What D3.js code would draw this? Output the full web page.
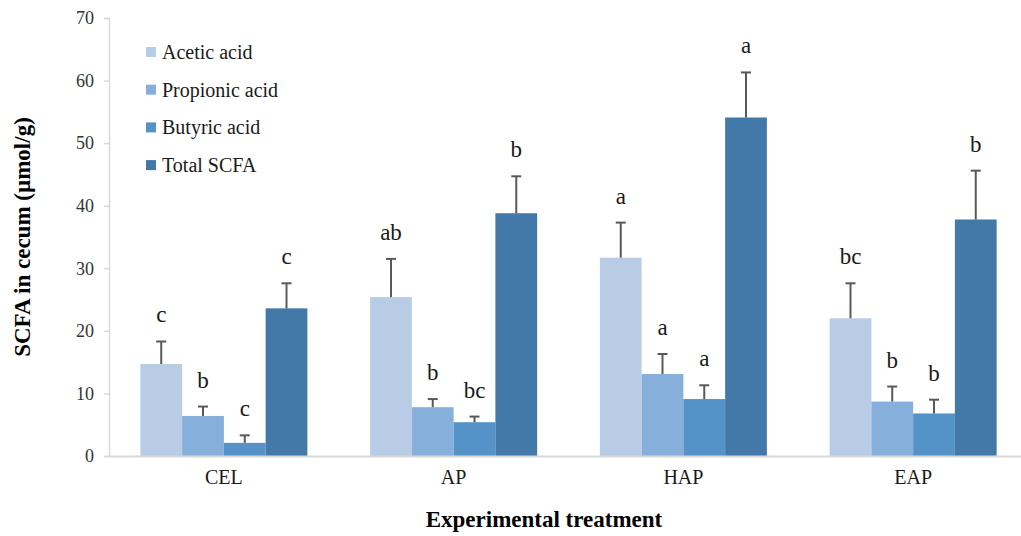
<!DOCTYPE html>
<html>
<head>
<meta charset="utf-8">
<script src="https://d3js.org/d3.v7.min.js"></script>
<style>
  body { margin: 0; background: #fff; }
  svg { display: block; font-family: "Liberation Serif", "Times New Roman", serif; }
</style>
</head>
<body>
<svg id="chart" width="1021" height="536"></svg>
<script>
// treatments and series
const treatments = ["CEL", "AP", "HAP", "EAP"];
const seriesNames = ["Acetic acid", "Propionic acid", "Butyric acid", "Total SCFA"];
const colors = ["#b8cce6", "#86afdc", "#5592c8", "#4379a9"];

// means per series, in treatment order
const acetic    = [14.7, 25.4, 31.7, 22.0];
const propionic = [6.4, 7.8, 13.1, 8.7];
const butyric   = [2.1, 5.4, 9.1, 6.8];
const total     = [23.6, 38.8, 54.1, 37.8];

// standard deviations (upper error bars)
const aceticSd    = [3.6, 6.1, 5.6, 5.6];
const propionicSd = [1.5, 1.3, 3.2, 2.4];
const butyricSd   = [1.2, 0.9, 2.2, 2.2];
const totalSd     = [4.0, 5.9, 7.2, 7.8];

// significance letters
const aceticLet    = ["c", "ab", "a", "bc"];
const propionicLet = ["b", "b", "a", "b"];
const butyricLet   = ["c", "bc", "a", "b"];
const totalLet     = ["c", "b", "a", "b"];

const yTicks = [0, 10, 20, 30, 40, 50, 60, 70];

const means = [acetic, propionic, butyric, total];
const sds = [aceticSd, propionicSd, butyricSd, totalSd];
const lets = [aceticLet, propionicLet, butyricLet, totalLet];

const rows = [];
treatments.forEach((t, i) => {
  seriesNames.forEach((s, j) => {
    rows.push({ t, s, j, v: means[j][i], sd: sds[j][i], lab: lets[j][i] });
  });
});

const pLeft = 109, pRight = 1028, pTop = 18, pBottom = 456;
const svg = d3.select("#chart");

const x = d3.scaleBand().domain(treatments).range([pLeft, pRight])
  .paddingInner(0.273).paddingOuter(0.1365);
const xs = d3.scaleBand().domain(seriesNames).range([0, x.bandwidth()]);
const y = d3.scaleLinear().domain([0, 70]).range([pBottom, pTop]);

// y axis
const yAxis = svg.append("g")
  .attr("transform", `translate(${pLeft},0)`)
  .call(d3.axisLeft(y).tickValues(yTicks).tickSize(5).tickPadding(10));
yAxis.selectAll("line").attr("stroke", "#d9d9d9").attr("stroke-width", 1.5);
yAxis.select(".domain").attr("stroke", "#d9d9d9").attr("stroke-width", 1.5);
yAxis.selectAll("text").attr("font-size", 18).attr("fill", "#333")
  .attr("font-family", "Liberation Serif, serif");

// bars
svg.append("g").selectAll("rect").data(rows).join("rect")
  .attr("x", d => x(d.t) + xs(d.s))
  .attr("y", d => y(d.v))
  .attr("width", xs.bandwidth())
  .attr("height", d => y(0) - y(d.v))
  .attr("fill", d => colors[d.j]);

// error bars
const eb = svg.append("g").attr("stroke", "#595959").attr("stroke-width", 2);
rows.forEach(d => {
  const cx = x(d.t) + xs(d.s) + xs.bandwidth() / 2;
  eb.append("line").attr("x1", cx).attr("x2", cx)
    .attr("y1", y(d.v)).attr("y2", y(d.v + d.sd));
  eb.append("line").attr("x1", cx - 5).attr("x2", cx + 5)
    .attr("y1", y(d.v + d.sd)).attr("y2", y(d.v + d.sd));
});

// letters
svg.append("g").selectAll("text").data(rows).join("text")
  .attr("x", d => x(d.t) + xs(d.s) + xs.bandwidth() / 2)
  .attr("y", d => y(d.v + d.sd) - 19)
  .attr("text-anchor", "middle")
  .attr("font-size", 23)
  .attr("fill", "#1a1a1a")
  .text(d => d.lab);

// x axis baseline
const xAxis = svg.append("g")
  .attr("transform", `translate(0,${pBottom})`)
  .call(d3.axisBottom(x).tickSize(0).tickPadding(14));
xAxis.select(".domain").attr("stroke", "#d9d9d9").attr("stroke-width", 2);
xAxis.selectAll("text").attr("font-size", 20).attr("fill", "#1a1a1a")
  .attr("font-family", "Liberation Serif, serif");

// axis titles
svg.append("text")
  .attr("x", 544).attr("y", 527)
  .attr("text-anchor", "middle")
  .attr("font-size", 23).attr("font-weight", "bold")
  .text("Experimental treatment");

svg.append("text")
  .attr("transform", `translate(30,${(pTop + pBottom) / 2}) rotate(-90)`)
  .attr("text-anchor", "middle")
  .attr("font-size", 23).attr("font-weight", "bold")
  .text("SCFA in cecum (µmol/g)");

// legend
const lg = svg.append("g").attr("transform", "translate(146,52)");
seriesNames.forEach((s, i) => {
  const g = lg.append("g").attr("transform", `translate(0,${i * 37.7})`);
  g.append("rect").attr("x", 0).attr("y", -5).attr("width", 10).attr("height", 10)
    .attr("fill", colors[i]);
  g.append("text").attr("x", 16).attr("y", 7)
    .attr("font-size", 20).attr("fill", "#1a1a1a").text(s);
});
</script>
</body>
</html>
